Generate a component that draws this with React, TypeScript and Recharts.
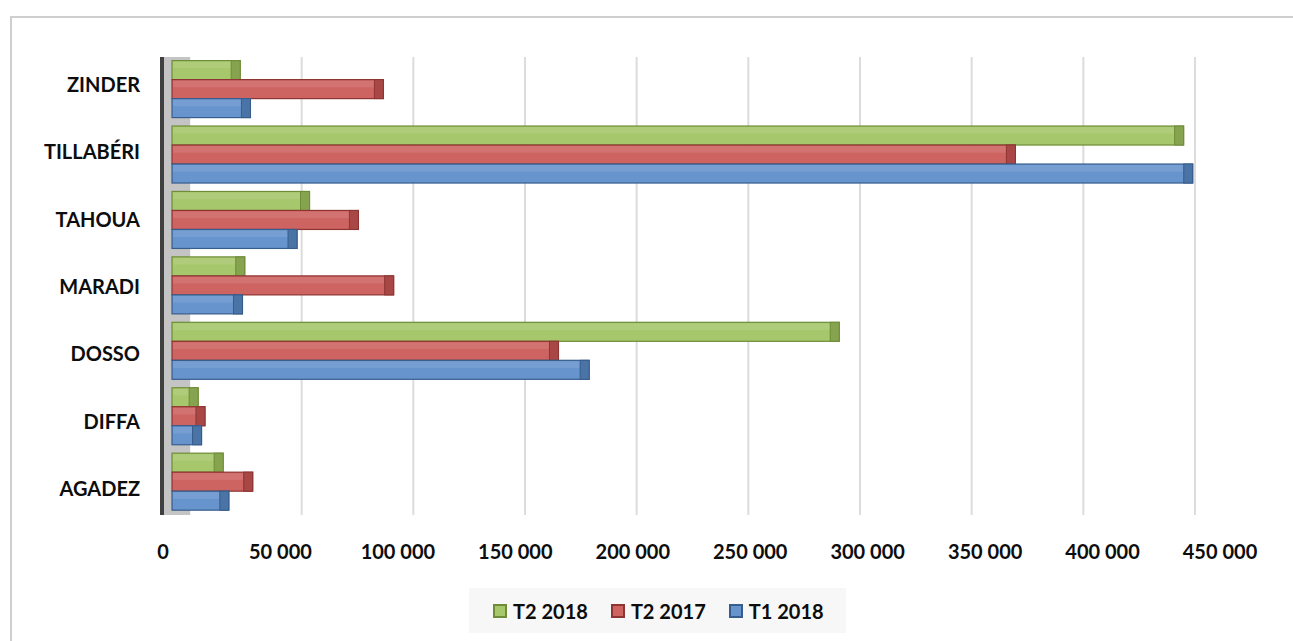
import React from 'react';
import { BarChart, Bar, XAxis, YAxis, CartesianGrid, Legend, ReferenceArea } from 'recharts';

const categories = ['ZINDER', 'TILLABÉRI', 'TAHOUA', 'MARADI', 'DOSSO', 'DIFFA', 'AGADEZ'];
const t2_2018 = [30000, 445000, 60500, 32000, 293500, 11500, 22500];
const t2_2017 = [93000, 371000, 82000, 97500, 170000, 14500, 35500];
const t1_2018 = [34500, 449000, 55000, 31000, 183500, 13000, 25000];
const xTicks = [0, 50000, 100000, 150000, 200000, 250000, 300000, 350000, 400000, 450000];
const X_MAX = 450000;
const X_PAD_LEFT = 10;

const data = categories.map((c, i) => ({
  region: c,
  t2_2018: t2_2018[i],
  t2_2017: t2_2017[i],
  t1_2018: t1_2018[i],
}));

const seriesDefs = [
  { key: 't2_2018', name: 'T2 2018', face: '#a6c76b', side: '#86a34f', edge: '#6f8c38' },
  { key: 't2_2017', name: 'T2 2017', face: '#cd6462', side: '#a84745', edge: '#8e3533' },
  { key: 't1_2018', name: 'T1 2018', face: '#6794cd', side: '#4a73a6', edge: '#375d8c' },
];

const fmt = (n: number) => String(n).replace(/\B(?=(\d{3})+(?!\d))/g, ' ');

const makeShape = (face: string, side: string, edge: string) => (props: any) => {
  const { x, y, width, height } = props;
  if (!width || width <= 0) return null;
  const d = Math.min(9, width * 0.4);
  return (
    <g>
      <rect x={x} y={y} width={width} height={height} fill={face} stroke={edge} strokeWidth={1.2} />
      <rect x={x + 1} y={y + 1} width={Math.max(0, width - d - 1)} height={height * 0.35} fill="#ffffff" fillOpacity={0.1} />
      <rect x={x + width - d} y={y} width={d} height={height} fill={side} stroke={edge} strokeWidth={1} />
    </g>
  );
};

// back-wall gridlines sit slightly behind the bars (perspective of the 3D original)
const gridGenerator = (args: any) => {
  const s = args?.xAxis?.scale;
  let f: ((v: number) => number) | null = null;
  if (typeof s === 'function') f = (v: number) => s(v);
  else if (s && typeof s.map === 'function') f = (v: number) => s.map(v);
  else if (args?.offset) {
    const o = args.offset;
    const a = o.left + X_PAD_LEFT;
    const b = o.left + o.width;
    f = (v: number) => a + ((b - a) * v) / X_MAX;
  }
  if (!f) return [];
  const x0 = f(0);
  const x1 = f(X_MAX);
  if (!isFinite(x0) || !isFinite(x1)) return [];
  const wallStart = x0 + 18;
  const k = (x1 - wallStart) / (x1 - x0);
  return xTicks.filter((t) => t > 0).map((t) => wallStart + (f!(t) - x0) * k);
};

const XTick = (props: any) => {
  const { x, y, payload } = props;
  const v = payload.value as number;
  const dx = -9 + (34 * v) / X_MAX;
  return (
    <text x={x + dx} y={y} dy={43.5} textAnchor="middle" fill="#0d0d0d" fontSize={20} fontWeight={700} fontFamily="Lato">
      {fmt(v)}
    </text>
  );
};

const YTick = (props: any) => {
  const { x, y, payload, index } = props;
  const dy = -5 + 1.9 * (index ?? 0);
  return (
    <text x={x} y={y + dy} dy="0.36em" textAnchor="end" fill="#0d0d0d" fontSize={20} fontWeight={700} fontFamily="Lato">
      {payload.value}
    </text>
  );
};

const LegendContent = () => (
  <div
    style={{
      width: 377,
      height: 45,
      background: '#f7f7f7',
      display: 'flex',
      alignItems: 'center',
      paddingLeft: 24,
      boxSizing: 'border-box',
      fontFamily: 'Lato',
      fontWeight: 700,
      fontSize: 20,
      color: '#0d0d0d',
    }}
  >
    {seriesDefs.map((s, i) => (
      <div key={s.key} style={{ display: 'flex', alignItems: 'center', marginRight: i < 2 ? 23 : 0 }}>
        <span
          style={{
            display: 'inline-block',
            width: 14,
            height: 14,
            boxSizing: 'border-box',
            background: s.face,
            border: `2px solid ${s.edge}`,
            marginRight: 6,
          }}
        />
        <span>{s.name}</span>
      </div>
    ))}
  </div>
);

export default function App() {
  return (
    <div
      style={{
        position: 'absolute',
        left: 10,
        top: 16,
        width: 1283,
        height: 625,
        boxSizing: 'border-box',
        borderTop: '2px solid #cfcfcf',
        borderLeft: '2px solid #cfcfcf',
        background: '#ffffff',
        overflow: 'hidden',
      }}
    >
      <BarChart
        width={1281}
        height={623}
        data={data}
        layout="vertical"
        margin={{ top: 39, right: 98, bottom: 96, left: 0 }}
        barCategoryGap={3.6}
        barGap={0}
        style={{ fontFamily: 'Lato' }}
      >
        <CartesianGrid
          horizontal={false}
          vertical={true}
          stroke="#dcdcdc"
          strokeWidth={2}
          verticalCoordinatesGenerator={gridGenerator}
        />
        <ReferenceArea x1={-4400} x2={8000} ifOverflow="visible" fill="#c4c4c4" fillOpacity={1} stroke="none" />
        <XAxis
          type="number"
          domain={[0, X_MAX]}
          ticks={xTicks}
          padding={{ left: X_PAD_LEFT, right: 0 }}
          axisLine={false}
          tickLine={false}
          tickSize={0}
          tickMargin={0}
          height={30}
          tick={<XTick />}
          interval={0}
        />
        <YAxis
          type="category"
          dataKey="region"
          width={150}
          axisLine={{ stroke: '#404040', strokeWidth: 4 }}
          tickLine={false}
          tickSize={0}
          tickMargin={22}
          tick={<YTick />}
          interval={0}
        />
        <Legend
          layout="horizontal"
          verticalAlign="middle"
          align="center"
          content={<LegendContent />}
          wrapperStyle={{ left: 457, top: 570, width: 377, height: 45 }}
        />
        {seriesDefs.map((s) => (
          <Bar
            key={s.key}
            dataKey={s.key}
            name={s.name}
            fill={s.face}
            isAnimationActive={false}
            shape={makeShape(s.face, s.side, s.edge)}
          />
        ))}
      </BarChart>
    </div>
  );
}
